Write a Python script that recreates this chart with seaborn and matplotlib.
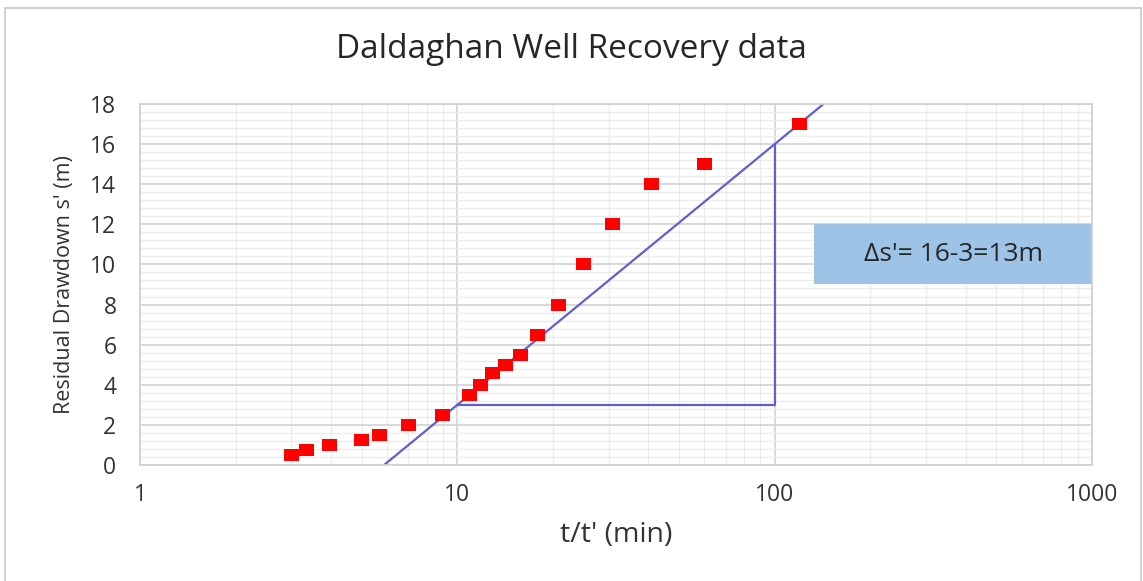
import numpy as np
import pandas as pd
import matplotlib
matplotlib.use("Agg")
import matplotlib.pyplot as plt
from matplotlib.ticker import MultipleLocator, LogLocator, NullFormatter, FixedLocator
import seaborn as sns

# recovery data
t_ratio = [3, 3.35, 3.95, 5.0, 5.7, 7.0, 9.0, 10.9, 11.8, 12.9, 14.2, 15.8, 17.9,
           20.9, 24.9, 30.9, 41, 60, 120]
drawdown = [0.5, 0.75, 1.0, 1.25, 1.5, 2.0, 2.5, 3.5, 4.0, 4.6, 5.0, 5.5, 6.5,
            8.0, 10.0, 12.0, 14.0, 15.0, 17.0]

# straight-line fit through one log cycle
fit_t = [10, 100]
fit_s = [3, 16]
box_text = "\u0394s'= 16-3=13m"

df = pd.DataFrame({"t": t_ratio, "s": drawdown})

sns.set_style("white")
plt.rcParams["font.family"] = ["Open Sans", "DejaVu Sans"]

fig = plt.figure(figsize=(11.43, 5.81), dpi=100)
ax = fig.add_axes([0.1225, 0.1997, 0.8329, 0.6213])

ax.set_xscale("log")
ax.set_xlim(1, 1000)
ax.set_ylim(0, 18)

# grid
ax.yaxis.set_major_locator(MultipleLocator(2))
ax.yaxis.set_minor_locator(MultipleLocator(0.4))
ax.xaxis.set_major_locator(FixedLocator([1, 10, 100, 1000]))
ax.xaxis.set_minor_locator(LogLocator(base=10, subs=np.arange(2, 10)))
ax.xaxis.set_minor_formatter(NullFormatter())
ax.set_xticklabels(["1", "10", "100", "1000"])
ax.grid(which="major", color="#d2d2d2", linewidth=1.2)
ax.grid(which="minor", color="#ececec", linewidth=0.9)
ax.set_axisbelow(True)
ax.tick_params(which="both", length=0, labelsize=16.5, colors="#333333")
ax.tick_params(axis="y", pad=17)
ax.tick_params(axis="x", pad=13)
for sp in ax.spines.values():
    sp.set_color("#d0d0d0")
    sp.set_linewidth(1.2)

# fitted line, extended across the y range
slope = (fit_s[1] - fit_s[0]) / (np.log10(fit_t[1]) - np.log10(fit_t[0]))
y_ends = np.array([0, 18])
x_ends = 10 ** (np.log10(fit_t[0]) + (y_ends - fit_s[0]) / slope)
line_c = "#5f5fd2"
ax.plot(x_ends, y_ends, color=line_c, linewidth=1.6, zorder=2)
ax.plot([fit_t[0], fit_t[1], fit_t[1]], [fit_s[0], fit_s[0], fit_s[1]],
        color=line_c, linewidth=1.6, zorder=2)

# slightly wide square markers, as in the source picture
rect_marker = [(-1, -0.8), (1, -0.8), (1, 0.8), (-1, 0.8), (-1, -0.8)]
sns.scatterplot(data=df, x="t", y="s", marker=rect_marker, s=118, color="#ff0000",
                edgecolor="none", linewidth=0, ax=ax, zorder=3)

# annotation box
box_x = [133, 1000]
ax.fill_between(box_x, 9, 12, color="#9dc3e6", zorder=2, linewidth=0)
ax.text(np.sqrt(box_x[0] * box_x[1]), 10.5, box_text, ha="center", va="center",
        fontsize=19, color="#262626", zorder=4)

ax.set_xlabel("t/t' (min)", fontsize=20.5, color="#333333", labelpad=10)
ax.set_ylabel("Residual Drawdown s' (m)", fontsize=15.5, color="#333333", labelpad=11)
fig.text(0.5, 0.900, "Daldaghan Well Recovery data", ha="center", va="baseline",
         fontsize=24, color="#262626")

# chart-area border
fig.patches.append(plt.Rectangle((0.004, -0.01), 0.994, 0.997, transform=fig.transFigure,
                                 fill=False, edgecolor="#c8c8c8", linewidth=1.2))

fig.savefig("out.png", dpi=100)
plt.close(fig)
